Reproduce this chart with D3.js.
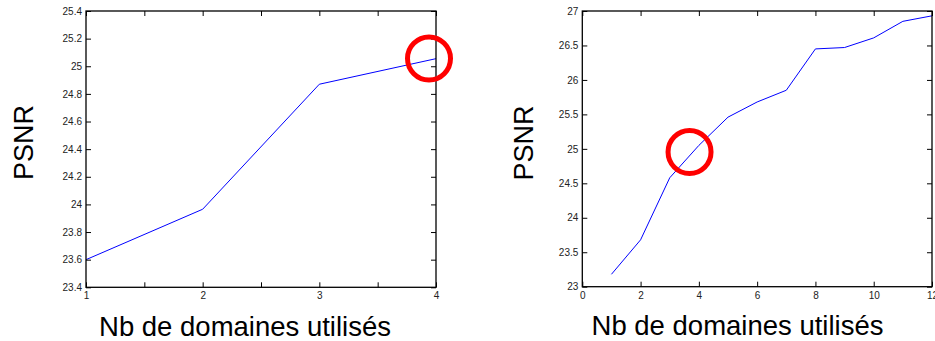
<!DOCTYPE html>
<html>
<head>
<meta charset="utf-8">
<script src="https://cdn.jsdelivr.net/npm/d3@7"></script>
<style>
  html, body { margin: 0; padding: 0; background: #fff; }
  svg { display: block; font-family: "Liberation Sans", Arial, Helvetica, sans-serif; }
  .tick text { fill: #222; }
</style>
</head>
<body>
<svg id="fig" width="935" height="341"></svg>
<script>
// PSNR against the number of domains used, two experiments
const domainsA = [1, 2, 3, 4];
const psnrA = [23.6, 23.965, 24.87, 25.055];
const xTicksA = [1, 1.5, 2, 2.5, 3, 3.5, 4];
const yTicksA = [23.4, 23.6, 23.8, 24, 24.2, 24.4, 24.6, 24.8, 25, 25.2, 25.4];
const highlightA = [3.94, 25.056];

const domainsB = [1, 2, 3, 4, 5, 6, 7, 8, 9, 10, 11, 12];
const psnrB = [23.18, 23.68, 24.58, 25.05, 25.46, 25.68, 25.85, 26.45, 26.47, 26.61, 26.85, 26.93];
const xTicksB = [0, 2, 4, 6, 8, 10, 12];
const yTicksB = [23, 23.5, 24, 24.5, 25, 25.5, 26, 26.5, 27];
const highlightB = [3.68, 24.954];

const xTitle = "Nb de domaines utilisés";
const yTitle = "PSNR";

const svg = d3.select("#fig");
const fmt = d => String(+d.toFixed(1));

function panel(opts) {
  const x = d3.scaleLinear().domain(opts.xDomain).range([opts.left, opts.right]);
  const y = d3.scaleLinear().domain(opts.yDomain).range([opts.bottom, opts.top]);
  const g = svg.append("g");

  // plotted series
  g.append("path")
    .datum(opts.xs.map((v, i) => [v, opts.ys[i]]))
    .attr("fill", "none")
    .attr("stroke", "#0000ff")
    .attr("stroke-width", 1)
    .attr("d", d3.line().x(d => x(d[0])).y(d => y(d[1])));

  const tick = 5;
  const styleAxis = sel => {
    sel.select(".domain").remove();
    sel.selectAll(".tick line").attr("stroke", "#000").attr("stroke-width", 1);
    sel.selectAll(".tick text").attr("font-size", 10);
  };

  g.append("g").attr("transform", `translate(0,${opts.bottom})`)
    .call(d3.axisBottom(x).tickValues(opts.xTicks).tickSize(-tick).tickPadding(5)
      .tickFormat(opts.xFormat))
    .call(styleAxis);
  g.append("g").attr("transform", `translate(0,${opts.top})`)
    .call(d3.axisTop(x).tickValues(opts.xTicks).tickSize(-tick).tickFormat(""))
    .call(styleAxis);
  g.append("g").attr("transform", `translate(${opts.left},0)`)
    .call(d3.axisLeft(y).tickValues(opts.yTicks).tickSize(-tick).tickPadding(4).tickFormat(fmt))
    .call(styleAxis);
  g.append("g").attr("transform", `translate(${opts.right},0)`)
    .call(d3.axisRight(y).tickValues(opts.yTicks).tickSize(-tick).tickFormat(""))
    .call(styleAxis);

  // axes box
  g.append("rect")
    .attr("x", opts.left).attr("y", opts.top)
    .attr("width", opts.right - opts.left).attr("height", opts.bottom - opts.top)
    .attr("fill", "none").attr("stroke", "#000").attr("stroke-width", 1.3);

  // highlight ring
  g.append("circle")
    .attr("cx", x(opts.ring[0])).attr("cy", y(opts.ring[1]))
    .attr("r", 21.5)
    .attr("fill", "none").attr("stroke", "#ff0000").attr("stroke-width", 5);

  // titles
  g.append("text")
    .attr("x", opts.xTitleX).attr("y", opts.xTitleY)
    .attr("text-anchor", "middle").attr("font-size", 27.5).attr("fill", "#000")
    .text(xTitle);
  g.append("text")
    .attr("transform", `translate(${opts.yTitleX},${opts.yTitleY}) rotate(-90)`)
    .attr("text-anchor", "middle").attr("font-size", 27).attr("fill", "#000")
    .text(yTitle);
}

panel({
  xs: domainsA, ys: psnrA,
  xDomain: [1, 4], yDomain: [23.4, 25.4],
  left: 86, right: 436, top: 11, bottom: 287.3,
  xTicks: xTicksA, yTicks: yTicksA,
  xFormat: d => Number.isInteger(d) ? String(d) : "",
  ring: highlightA,
  xTitleX: 245, xTitleY: 336,
  yTitleX: 33, yTitleY: 142.5
});

panel({
  xs: domainsB, ys: psnrB,
  xDomain: [0, 12], yDomain: [23, 27],
  left: 582.3, right: 932, top: 11, bottom: 286.7,
  xTicks: xTicksB, yTicks: yTicksB,
  xFormat: d => String(d),
  ring: highlightB,
  xTitleX: 737.5, xTitleY: 335,
  yTitleX: 533.3, yTitleY: 143
});
</script>
</body>
</html>
